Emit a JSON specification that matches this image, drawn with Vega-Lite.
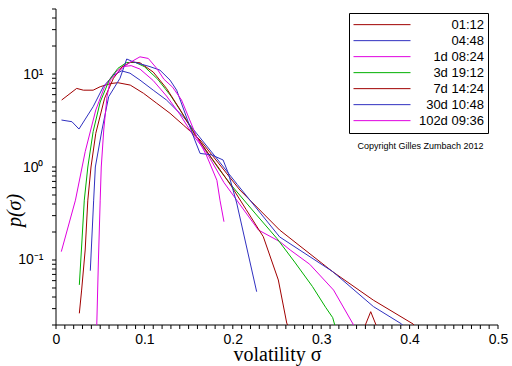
{
"$schema": "https://vega.github.io/schema/vega-lite/v6.json",
"width": 442, "height": 316,
"autosize": {"type": "none"},
"padding": {"left": 56, "top": 9, "right": 14, "bottom": 41},
"background": "white",
"config": {"view": {"stroke": null}},
"resolve": {"axis": {"x": "independent", "y": "independent"}, "scale": {"color": "independent"}},
"layer": [
{"data": {"values": [{"k":"axis","i":1,"x":0,"p":50},{"k":"axis","i":2,"x":0,"p":0.02},{"k":"axis","i":3,"x":0.5,"p":0.02}]},
"mark": {"type": "line", "strokeWidth": 1},
"encoding": {"x": {"field": "x", "type": "quantitative", "axis": null}, "y": {"field": "p", "type": "quantitative", "axis": null}, "order": {"field": "i"},
 "color": {"field": "k", "type": "nominal", "scale": {"range": ["#000000"]}, "legend": null}}},
{"data": {"values": [{"k":"t","x":0},{"k":"t","x":0.01},{"k":"t","x":0.02},{"k":"t","x":0.03},{"k":"t","x":0.04},{"k":"t","x":0.05},{"k":"t","x":0.06},{"k":"t","x":0.07},{"k":"t","x":0.08},{"k":"t","x":0.09},{"k":"t","x":0.1},{"k":"t","x":0.11},{"k":"t","x":0.12},{"k":"t","x":0.13},{"k":"t","x":0.14},{"k":"t","x":0.15},{"k":"t","x":0.16},{"k":"t","x":0.17},{"k":"t","x":0.18},{"k":"t","x":0.19},{"k":"t","x":0.2},{"k":"t","x":0.21},{"k":"t","x":0.22},{"k":"t","x":0.23},{"k":"t","x":0.24},{"k":"t","x":0.25},{"k":"t","x":0.26},{"k":"t","x":0.27},{"k":"t","x":0.28},{"k":"t","x":0.29},{"k":"t","x":0.3},{"k":"t","x":0.31},{"k":"t","x":0.32},{"k":"t","x":0.33},{"k":"t","x":0.34},{"k":"t","x":0.35},{"k":"t","x":0.36},{"k":"t","x":0.37},{"k":"t","x":0.38},{"k":"t","x":0.39},{"k":"t","x":0.4},{"k":"t","x":0.41},{"k":"t","x":0.42},{"k":"t","x":0.43},{"k":"t","x":0.44},{"k":"t","x":0.45},{"k":"t","x":0.46},{"k":"t","x":0.47},{"k":"t","x":0.48},{"k":"t","x":0.49},{"k":"t","x":0.5}]},
"mark": {"type": "tick", "orient": "vertical", "size": 4, "thickness": 1, "opacity": 1, "yOffset": 2},
"encoding": {"x": {"field": "x", "type": "quantitative", "axis": null}, "y": {"datum": 0.02, "type": "quantitative", "axis": null},
 "color": {"field": "k", "type": "nominal", "scale": {"range": ["#000000"]}, "legend": null}}},
{"data": {"values": [{"k":"t","p":0.02},{"k":"t","p":0.03},{"k":"t","p":0.04},{"k":"t","p":0.05},{"k":"t","p":0.06},{"k":"t","p":0.07},{"k":"t","p":0.08},{"k":"t","p":0.09},{"k":"t","p":0.1},{"k":"t","p":0.2},{"k":"t","p":0.3},{"k":"t","p":0.4},{"k":"t","p":0.5},{"k":"t","p":0.6},{"k":"t","p":0.7},{"k":"t","p":0.8},{"k":"t","p":0.9},{"k":"t","p":1},{"k":"t","p":2},{"k":"t","p":3},{"k":"t","p":4},{"k":"t","p":5},{"k":"t","p":6},{"k":"t","p":7},{"k":"t","p":8},{"k":"t","p":9},{"k":"t","p":10},{"k":"t","p":20},{"k":"t","p":30},{"k":"t","p":40},{"k":"t","p":50}]},
"mark": {"type": "tick", "orient": "horizontal", "size": 4, "thickness": 1, "opacity": 1, "xOffset": -2},
"encoding": {"y": {"field": "p", "type": "quantitative", "axis": null}, "x": {"datum": 0, "type": "quantitative", "axis": null},
 "color": {"field": "k", "type": "nominal", "scale": {"range": ["#000000"]}, "legend": null}}},
{"data": {"values": [
{"s":"01:12","seg":"a","x":0.0064,"p":5.25},{"s":"01:12","seg":"a","x":0.0234,"p":7.0},{"s":"01:12","seg":"a","x":0.031,"p":6.7},{"s":"01:12","seg":"a","x":0.042,"p":6.7},{"s":"01:12","seg":"a","x":0.05,"p":7.3},{"s":"01:12","seg":"a","x":0.062,"p":7.9},{"s":"01:12","seg":"a","x":0.07,"p":8.06},{"s":"01:12","seg":"a","x":0.084,"p":7.6},{"s":"01:12","seg":"a","x":0.099,"p":6.2},{"s":"01:12","seg":"a","x":0.114,"p":4.84},{"s":"01:12","seg":"a","x":0.129,"p":3.78},{"s":"01:12","seg":"a","x":0.144,"p":2.83},{"s":"01:12","seg":"a","x":0.163,"p":1.95},{"s":"01:12","seg":"a","x":0.208,"p":0.566},{"s":"01:12","seg":"a","x":0.253,"p":0.21},{"s":"01:12","seg":"a","x":0.313,"p":0.0748},{"s":"01:12","seg":"a","x":0.359,"p":0.037},{"s":"01:12","seg":"a","x":0.404,"p":0.0205},{"s":"01:12","seg":"a","x":0.407,"p":0.019},
{"s":"04:48","seg":"a","x":0.0062,"p":3.2},{"s":"04:48","seg":"a","x":0.018,"p":3.07},{"s":"04:48","seg":"a","x":0.026,"p":2.56},{"s":"04:48","seg":"a","x":0.042,"p":4.45},{"s":"04:48","seg":"a","x":0.0535,"p":7.3},{"s":"04:48","seg":"a","x":0.065,"p":9.76},{"s":"04:48","seg":"a","x":0.0743,"p":10.8},{"s":"04:48","seg":"a","x":0.0837,"p":10.2},{"s":"04:48","seg":"a","x":0.095,"p":8.6},{"s":"04:48","seg":"a","x":0.11,"p":6.7},{"s":"04:48","seg":"a","x":0.125,"p":5.25},{"s":"04:48","seg":"a","x":0.144,"p":3.47},{"s":"04:48","seg":"a","x":0.159,"p":2.3},{"s":"04:48","seg":"a","x":0.18,"p":1.3},{"s":"04:48","seg":"a","x":0.205,"p":0.65},{"s":"04:48","seg":"a","x":0.253,"p":0.177},{"s":"04:48","seg":"a","x":0.313,"p":0.075},{"s":"04:48","seg":"a","x":0.359,"p":0.0316},{"s":"04:48","seg":"a","x":0.391,"p":0.0205},{"s":"04:48","seg":"a","x":0.394,"p":0.019},
{"s":"1d 08:24","seg":"a","x":0.006,"p":0.123},{"s":"1d 08:24","seg":"a","x":0.022,"p":0.44},{"s":"1d 08:24","seg":"a","x":0.033,"p":1.46},{"s":"1d 08:24","seg":"a","x":0.045,"p":4.1},{"s":"1d 08:24","seg":"a","x":0.055,"p":7.3},{"s":"1d 08:24","seg":"a","x":0.065,"p":10.0},{"s":"1d 08:24","seg":"a","x":0.075,"p":12.0},{"s":"1d 08:24","seg":"a","x":0.085,"p":12.3},{"s":"1d 08:24","seg":"a","x":0.095,"p":11.3},{"s":"1d 08:24","seg":"a","x":0.11,"p":8.5},{"s":"1d 08:24","seg":"a","x":0.125,"p":5.8},{"s":"1d 08:24","seg":"a","x":0.14,"p":3.7},{"s":"1d 08:24","seg":"a","x":0.155,"p":2.2},{"s":"1d 08:24","seg":"a","x":0.17,"p":1.45},{"s":"1d 08:24","seg":"a","x":0.19,"p":0.68},{"s":"1d 08:24","seg":"a","x":0.229,"p":0.21},{"s":"1d 08:24","seg":"a","x":0.253,"p":0.158},{"s":"1d 08:24","seg":"a","x":0.265,"p":0.128},{"s":"1d 08:24","seg":"a","x":0.287,"p":0.09},{"s":"1d 08:24","seg":"a","x":0.314,"p":0.0475},{"s":"1d 08:24","seg":"a","x":0.336,"p":0.0205},{"s":"1d 08:24","seg":"a","x":0.338,"p":0.019},
{"s":"3d 19:12","seg":"a","x":0.0264,"p":0.054},{"s":"3d 19:12","seg":"a","x":0.0294,"p":0.164},{"s":"3d 19:12","seg":"a","x":0.032,"p":0.44},{"s":"3d 19:12","seg":"a","x":0.036,"p":1.0},{"s":"3d 19:12","seg":"a","x":0.042,"p":2.4},{"s":"3d 19:12","seg":"a","x":0.05,"p":5.0},{"s":"3d 19:12","seg":"a","x":0.06,"p":8.5},{"s":"3d 19:12","seg":"a","x":0.07,"p":11.5},{"s":"3d 19:12","seg":"a","x":0.08,"p":13.3},{"s":"3d 19:12","seg":"a","x":0.09,"p":13.3},{"s":"3d 19:12","seg":"a","x":0.1,"p":12.0},{"s":"3d 19:12","seg":"a","x":0.115,"p":8.8},{"s":"3d 19:12","seg":"a","x":0.13,"p":5.8},{"s":"3d 19:12","seg":"a","x":0.145,"p":3.5},{"s":"3d 19:12","seg":"a","x":0.16,"p":2.05},{"s":"3d 19:12","seg":"a","x":0.172,"p":1.4},{"s":"3d 19:12","seg":"a","x":0.185,"p":0.93},{"s":"3d 19:12","seg":"a","x":0.2,"p":0.61},{"s":"3d 19:12","seg":"a","x":0.225,"p":0.32},{"s":"3d 19:12","seg":"a","x":0.25,"p":0.17},{"s":"3d 19:12","seg":"a","x":0.27,"p":0.095},{"s":"3d 19:12","seg":"a","x":0.29,"p":0.052},{"s":"3d 19:12","seg":"a","x":0.305,"p":0.031},{"s":"3d 19:12","seg":"a","x":0.313,"p":0.024},{"s":"3d 19:12","seg":"a","x":0.316,"p":0.019},
{"s":"7d 14:24","seg":"a","x":0.0264,"p":0.0267},{"s":"7d 14:24","seg":"a","x":0.029,"p":0.0475},{"s":"7d 14:24","seg":"a","x":0.033,"p":0.128},{"s":"7d 14:24","seg":"a","x":0.036,"p":0.44},{"s":"7d 14:24","seg":"a","x":0.0396,"p":1.0},{"s":"7d 14:24","seg":"a","x":0.045,"p":2.3},{"s":"7d 14:24","seg":"a","x":0.055,"p":5.5},{"s":"7d 14:24","seg":"a","x":0.065,"p":9.0},{"s":"7d 14:24","seg":"a","x":0.075,"p":12.0},{"s":"7d 14:24","seg":"a","x":0.085,"p":13.5},{"s":"7d 14:24","seg":"a","x":0.095,"p":13.2},{"s":"7d 14:24","seg":"a","x":0.11,"p":10.5},{"s":"7d 14:24","seg":"a","x":0.125,"p":7.0},{"s":"7d 14:24","seg":"a","x":0.14,"p":4.2},{"s":"7d 14:24","seg":"a","x":0.155,"p":2.4},{"s":"7d 14:24","seg":"a","x":0.17,"p":1.5},{"s":"7d 14:24","seg":"a","x":0.185,"p":0.95},{"s":"7d 14:24","seg":"a","x":0.199,"p":0.61},{"s":"7d 14:24","seg":"a","x":0.215,"p":0.35},{"s":"7d 14:24","seg":"a","x":0.2345,"p":0.178},{"s":"7d 14:24","seg":"a","x":0.2515,"p":0.061},{"s":"7d 14:24","seg":"a","x":0.261,"p":0.021},{"s":"7d 14:24","seg":"a","x":0.263,"p":0.019},
{"s":"7d 14:24","seg":"b","x":0.349,"p":0.019},{"s":"7d 14:24","seg":"b","x":0.356,"p":0.0278},{"s":"7d 14:24","seg":"b","x":0.363,"p":0.019},
{"s":"30d 10:48","seg":"a","x":0.0388,"p":0.0767},{"s":"30d 10:48","seg":"a","x":0.0426,"p":0.44},{"s":"30d 10:48","seg":"a","x":0.0445,"p":1.0},{"s":"30d 10:48","seg":"a","x":0.052,"p":2.5},{"s":"30d 10:48","seg":"a","x":0.0596,"p":5.7},{"s":"30d 10:48","seg":"a","x":0.0724,"p":9.0},{"s":"30d 10:48","seg":"a","x":0.08,"p":14.5},{"s":"30d 10:48","seg":"a","x":0.0874,"p":13.5},{"s":"30d 10:48","seg":"a","x":0.1063,"p":12.0},{"s":"30d 10:48","seg":"a","x":0.1176,"p":11.0},{"s":"30d 10:48","seg":"a","x":0.129,"p":8.6},{"s":"30d 10:48","seg":"a","x":0.1365,"p":6.7},{"s":"30d 10:48","seg":"a","x":0.157,"p":1.95},{"s":"30d 10:48","seg":"a","x":0.163,"p":1.4},{"s":"30d 10:48","seg":"a","x":0.176,"p":1.35},{"s":"30d 10:48","seg":"a","x":0.189,"p":1.19},{"s":"30d 10:48","seg":"a","x":0.195,"p":0.855},{"s":"30d 10:48","seg":"a","x":0.2044,"p":0.41},{"s":"30d 10:48","seg":"a","x":0.227,"p":0.0456},
{"s":"102d 09:36","seg":"a","x":0.046,"p":0.018},{"s":"102d 09:36","seg":"a","x":0.048,"p":0.1},{"s":"102d 09:36","seg":"a","x":0.05,"p":0.44},{"s":"102d 09:36","seg":"a","x":0.0512,"p":1.0},{"s":"102d 09:36","seg":"a","x":0.054,"p":2.5},{"s":"102d 09:36","seg":"a","x":0.0577,"p":5.7},{"s":"102d 09:36","seg":"a","x":0.0614,"p":8.6},{"s":"102d 09:36","seg":"a","x":0.0724,"p":11.0},{"s":"102d 09:36","seg":"a","x":0.0818,"p":13.0},{"s":"102d 09:36","seg":"a","x":0.095,"p":15.3},{"s":"102d 09:36","seg":"a","x":0.1044,"p":14.7},{"s":"102d 09:36","seg":"a","x":0.1139,"p":11.5},{"s":"102d 09:36","seg":"a","x":0.122,"p":8.8},{"s":"102d 09:36","seg":"a","x":0.132,"p":7.2},{"s":"102d 09:36","seg":"a","x":0.142,"p":5.25},{"s":"102d 09:36","seg":"a","x":0.159,"p":2.12},{"s":"102d 09:36","seg":"a","x":0.17,"p":1.35},{"s":"102d 09:36","seg":"a","x":0.182,"p":0.72},{"s":"102d 09:36","seg":"a","x":0.1855,"p":0.44},{"s":"102d 09:36","seg":"a","x":0.19,"p":0.258}
]},
"mark": {"type": "line", "strokeWidth": 1, "clip": true},
"encoding": {
"x": {"field": "x", "type": "quantitative", "scale": {"domain": [0, 0.5], "nice": false, "zero": false},
 "axis": {"values": [0,0.1,0.2,0.3,0.4,0.5],
  "labelExpr": "datum.value == 0 ? '0' : format(datum.value, '.1f')",
  "grid": false, "domain": false, "ticks": false, "labelOverlap": false, "labelFlush": false, "labelBound": false,
  "labelColor": "#000000", "labelFont": "Liberation Sans", "labelFontSize": 14, "labelPadding": 7,
  "title": "volatility   σ", "titleFont": "Liberation Serif", "titleFontWeight": "normal", "titleColor": "#000000", "titleFontSize": 20, "titleY": 35, "titleBaseline": "alphabetic"}},
"y": {"field": "p", "type": "quantitative", "scale": {"type": "log", "domain": [0.02, 50], "nice": false},
 "axis": {"values": [0.1, 1, 10],
  "labelExpr": "datum.value == 10 ? '10¹' : datum.value == 1 ? '10⁰' : '10⁻¹'",
  "grid": false, "domain": false, "ticks": false, "labelOverlap": false, "labelFlush": false, "labelBound": false,
  "labelColor": "#000000", "labelFont": "Liberation Sans", "labelFontSize": 14, "labelPadding": 13,
  "title": "p(σ)", "titleFont": "Liberation Serif", "titleFontWeight": "normal", "titleColor": "#000000", "titleFontSize": 20, "titleFontStyle": "italic", "titleAngle": 270, "titleX": -42, "titleY": 201, "titleAlign": "center", "titleBaseline": "middle"}},
"color": {"field": "s", "type": "nominal",
 "scale": {"domain": ["01:12","04:48","1d 08:24","3d 19:12","7d 14:24","30d 10:48","102d 09:36"], "range": ["#a00000","#3030c0","#e000e0","#00b000","#a00000","#3030c0","#e000e0"]},
 "legend": {"orient": "none", "legendX": 293, "legendY": 4, "title": null, "symbolType": "stroke", "symbolSize": 3249, "symbolStrokeWidth": 1, "clipHeight": 15.3, "rowPadding": 0, "labelAlign": "right", "labelOffset": 73, "labelFontSize": 13, "labelFont": "Liberation Sans", "labelColor": "black", "padding": 4, "strokeColor": "black", "fillColor": "white", "labelLimit": 200}},
"detail": {"field": "seg"}
}},
{"data": {"values": [{"x": 0.4123, "p": 1.68, "t": "Copyright Gilles Zumbach 2012"}]},
"mark": {"type": "text", "font": "Liberation Sans", "fontSize": 9, "align": "center", "baseline": "middle", "color": "black"},
"encoding": {"x": {"field": "x", "type": "quantitative", "axis": null}, "y": {"field": "p", "type": "quantitative", "axis": null}, "text": {"field": "t"}}}
]
}
